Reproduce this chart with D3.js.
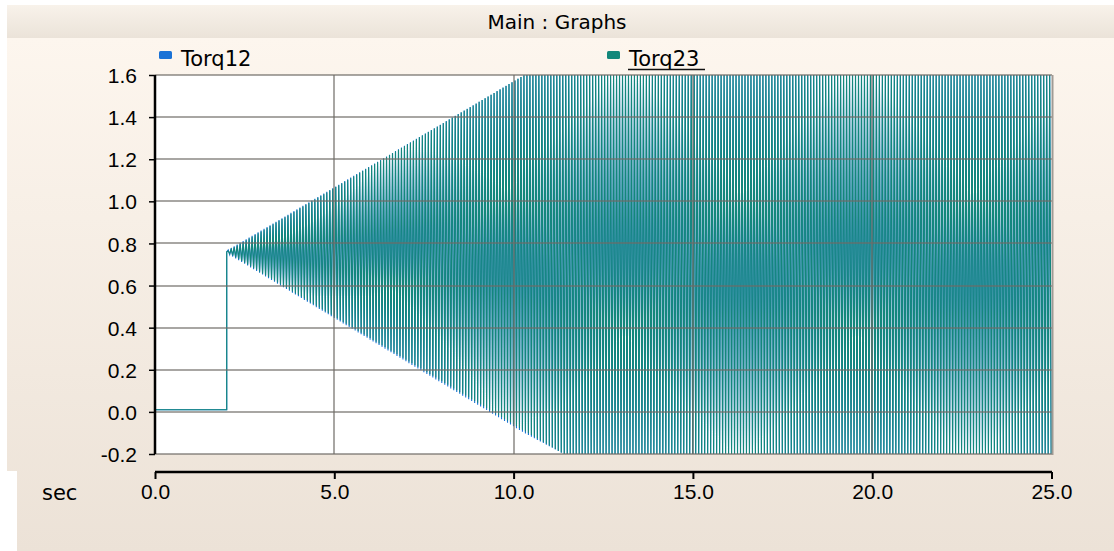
<!DOCTYPE html>
<html>
<head>
<meta charset="utf-8">
<script src="https://cdn.jsdelivr.net/npm/d3@7"></script>
<style>
    html, body { margin: 0; padding: 0; background: #ffffff; }
    #chart { width: 1114px; height: 551px; }
</style>
</head>
<body>
<div id="chart"></div>
<script>
// Values
const chartTitle = "Main : Graphs";
const seriesNames = ["Torq12", "Torq23"];
const seriesColors = ["#1a72d6", "#13877a"];
const xTicks = [0, 5, 10, 15, 20, 25];
const xTickLabels = ["0.0", "5.0", "10.0", "15.0", "20.0", "25.0"];
const yTicks = [-0.2, 0.0, 0.2, 0.4, 0.6, 0.8, 1.0, 1.2, 1.4, 1.6];
const yTickLabels = ["-0.2", "0.0", "0.2", "0.4", "0.6", "0.8", "1.0", "1.2", "1.4", "1.6"];
const xUnit = "sec";

// flat part before the step
const stepTimes = [0.0, 2.0, 2.0];
const stepValues = [0.01, 0.01, 0.76];

// oscillation envelope (clipped by the plot at 1.6 / -0.2)
const envelopeTimes = [2.0, 10.3, 11.4, 25.0];
const torq12Upper = [0.765, 1.6, 1.6, 1.6];
const torq12Lower = [0.755, -0.1, -0.2, -0.2];
const torq23Upper = [0.76, 1.6, 1.6, 1.6];
const torq23Lower = [0.76, -0.09, -0.2, -0.2];
const oscillationPeriod = 0.0833; // ~12 Hz, about 3px per cycle

class TorqueChart {
    constructor() {
        const attrs = {
            container: "#chart",
            svgWidth: 1114,
            svgHeight: 551,
            plotLeft: 155,
            plotRight: 1052,
            plotTop: 75,
            plotBottom: 454,
            xAxisY: 472,
            defaultFont: "'DejaVu Sans', Verdana, sans-serif",
            fontSize: 21
        };
        this.getState = () => attrs;
        this.setState = (d) => Object.assign(attrs, d);
    }

    render() {
        this.calculateProperties();
        this.drawBackground();
        this.drawPlot();
        this.drawAxes();
        this.drawLegend();
        return this;
    }

    calculateProperties() {
        const { plotLeft, plotRight, plotTop, plotBottom } = this.getState();
        const x = d3.scaleLinear().domain([0, 25]).range([plotLeft, plotRight - 0.5]);
        const y = d3.scaleLinear().domain([-0.2, 1.6]).range([plotBottom, plotTop]);

        // expand each envelope into the zig-zag between its upper and lower values
        const buildSeries = (upper, lower) => {
            const hi = d3.scaleLinear().domain(envelopeTimes).range(upper).clamp(true);
            const lo = d3.scaleLinear().domain(envelopeTimes).range(lower).clamp(true);
            const pts = stepTimes.map((t, i) => [t, stepValues[i]]);
            let k = 1;
            for (let t = 2 + oscillationPeriod / 2; t <= 25; t += oscillationPeriod / 2, k++) {
                pts.push([t, k % 2 ? hi(t) : lo(t)]);
            }
            return pts;
        };
        const series = [
            { name: seriesNames[0], color: seriesColors[0], points: buildSeries(torq12Upper, torq12Lower) },
            { name: seriesNames[1], color: seriesColors[1], points: buildSeries(torq23Upper, torq23Lower) }
        ];
        this.setState({ x, y, series });
    }

    drawBackground() {
        const { container, svgWidth, svgHeight, defaultFont, xAxisY } = this.getState();

        const svg = d3.select(container).append("svg")
            .attr("width", svgWidth)
            .attr("height", svgHeight)
            .attr("font-family", defaultFont);

        const defs = svg.append("defs");
        const head = defs.append("linearGradient").attr("id", "headGrad").attr("x1", 0).attr("x2", 0).attr("y1", 0).attr("y2", 1);
        head.append("stop").attr("offset", "0%").attr("stop-color", "#f8f2ea");
        head.append("stop").attr("offset", "100%").attr("stop-color", "#ebe3d9");
        const body = defs.append("linearGradient").attr("id", "bodyGrad").attr("x1", 0).attr("x2", 0).attr("y1", 0).attr("y2", 1);
        body.append("stop").attr("offset", "0%").attr("stop-color", "#fdf6ee");
        body.append("stop").attr("offset", "100%").attr("stop-color", "#ece2d7");

        svg.append("rect").attr("x", 0).attr("y", 0).attr("width", svgWidth).attr("height", svgHeight).attr("fill", "#ffffff");
        svg.append("rect").attr("x", 7).attr("y", 38).attr("width", svgWidth - 7).attr("height", svgHeight - 38).attr("fill", "url(#bodyGrad)");
        svg.append("rect").attr("x", 0).attr("y", xAxisY - 1).attr("width", 17).attr("height", svgHeight).attr("fill", "#ffffff");
        svg.append("rect").attr("x", 7).attr("y", 5).attr("width", svgWidth - 7).attr("height", 33).attr("fill", "url(#headGrad)");

        svg.append("text")
            .attr("x", svgWidth / 2)
            .attr("y", 29)
            .attr("text-anchor", "middle")
            .attr("font-size", 20)
            .attr("fill", "#000")
            .text(chartTitle);

        this.setState({ svg });
    }

    drawPlot() {
        const { svg, x, y, series, plotLeft, plotRight, plotTop, plotBottom } = this.getState();

        svg.append("rect")
            .attr("x", plotLeft).attr("y", plotTop)
            .attr("width", plotRight - plotLeft).attr("height", plotBottom - plotTop)
            .attr("fill", "#ffffff");

        svg.append("clipPath").attr("id", "plotClip")
            .append("rect")
            .attr("x", plotLeft).attr("y", plotTop - 1)
            .attr("width", plotRight - plotLeft).attr("height", plotBottom - plotTop + 2);

        const line = d3.line().x(d => x(d[0])).y(d => y(d[1]));

        svg.append("g").attr("clip-path", "url(#plotClip)")
            .selectAll("path.series")
            .data(series)
            .join("path")
            .attr("class", "series")
            .attr("fill", "none")
            .attr("stroke", d => d.color)
            .attr("stroke-width", 1.1)
            .attr("d", d => line(d.points));

        // grid drawn over the traces, semi transparent
        const grid = svg.append("g").attr("stroke", "#6e6a66").attr("stroke-opacity", 0.6).attr("stroke-width", 2);
        grid.selectAll("line.hgrid")
            .data(yTicks)
            .join("line")
            .attr("class", "hgrid")
            .attr("x1", plotLeft).attr("x2", plotRight)
            .attr("y1", d => Math.round(y(d))).attr("y2", d => Math.round(y(d)));
        grid.selectAll("line.vgrid")
            .data(xTicks.slice(1, -1))
            .join("line")
            .attr("class", "vgrid")
            .attr("x1", d => Math.round(x(d))).attr("x2", d => Math.round(x(d)))
            .attr("y1", plotTop).attr("y2", plotBottom);

        // right edge shadow
        svg.append("line")
            .attr("x1", plotRight + 0.5).attr("x2", plotRight + 0.5)
            .attr("y1", plotTop).attr("y2", plotBottom + 1)
            .attr("stroke", "#a09a94").attr("stroke-width", 2);
    }

    drawAxes() {
        const { svg, x, y, plotLeft, plotRight, xAxisY, fontSize } = this.getState();

        const yAxis = d3.axisLeft(y)
            .tickValues(yTicks)
            .tickFormat((d, i) => yTickLabels[i])
            .tickSize(6)
            .tickPadding(12);
        const gy = svg.append("g").attr("transform", `translate(${plotLeft},0)`).call(yAxis);
        gy.select(".domain").attr("stroke", "#000").attr("stroke-width", 2.5).attr("d", `M0,${y(1.6)}V${y(-0.2)}`);
        gy.selectAll(".tick line").attr("stroke", "#000").attr("stroke-width", 1.5);
        gy.selectAll(".tick text").attr("font-size", fontSize).attr("font-family", null).attr("fill", "#000").attr("dy", "0.36em");

        const xAxis = d3.axisBottom(x)
            .tickValues(xTicks)
            .tickFormat((d, i) => xTickLabels[i])
            .tickSize(7)
            .tickPadding(5);
        const gx = svg.append("g").attr("transform", `translate(0,${xAxisY})`).call(xAxis);
        gx.select(".domain").attr("stroke", "#000").attr("stroke-width", 2.5).attr("d", `M${plotLeft},0H${plotRight}`);
        gx.selectAll(".tick line").attr("stroke", "#000").attr("stroke-width", 2);
        gx.selectAll(".tick text").attr("font-size", fontSize).attr("font-family", null).attr("fill", "#000");

        svg.append("text")
            .attr("x", 42).attr("y", 500)
            .attr("font-size", fontSize)
            .attr("fill", "#000")
            .text(xUnit);
    }

    drawLegend() {
        const { svg, series, fontSize } = this.getState();
        const legendX = [159, 607];

        const items = svg.selectAll("g.legend-item")
            .data(series)
            .join("g")
            .attr("class", "legend-item")
            .attr("transform", (d, i) => `translate(${legendX[i]},0)`);

        items.append("rect")
            .attr("x", 0).attr("y", 51)
            .attr("width", 13).attr("height", 8)
            .attr("rx", 1.5)
            .attr("fill", d => d.color);

        items.append("text")
            .attr("x", 22).attr("y", 66)
            .attr("font-size", fontSize)
            .attr("fill", "#000")
            .text(d => d.name);

        // the active series is underlined
        items.filter((d, i) => i === 1)
            .append("line")
            .attr("x1", 21).attr("x2", 98)
            .attr("y1", 69.5).attr("y2", 69.5)
            .attr("stroke", "#111").attr("stroke-width", 1.5);
    }
}

new TorqueChart().render();
</script>
</body>
</html>
